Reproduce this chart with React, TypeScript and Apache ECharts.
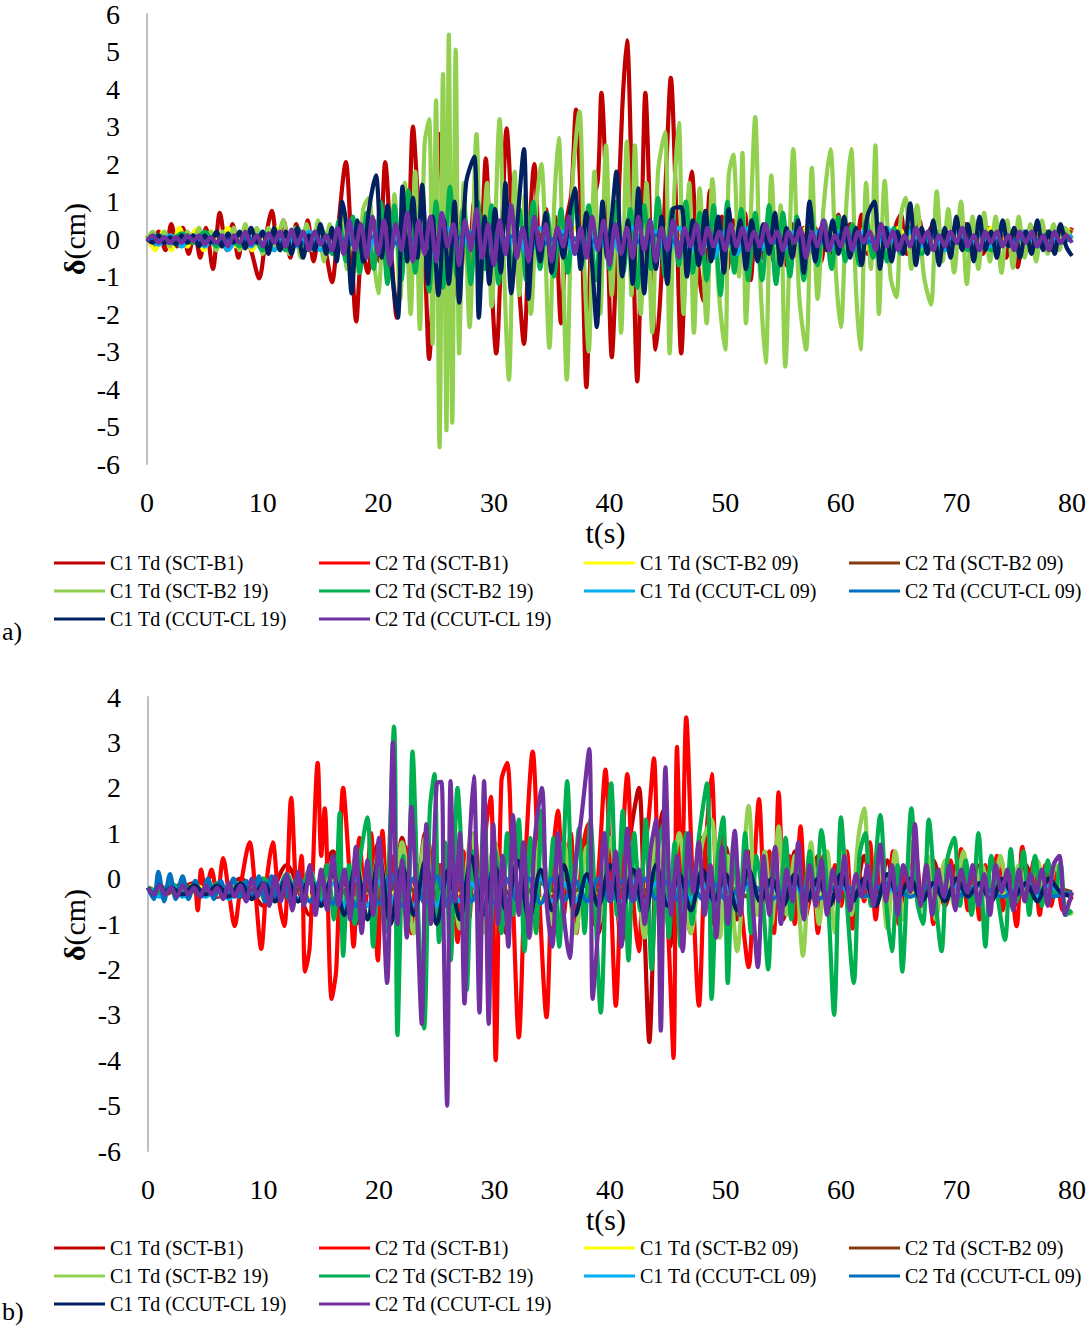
import React, { useEffect, useRef } from 'react';
import * as echarts from 'echarts';

// 系列名稱與顏色（Excel 調色盤）
const seriesNames = [
  'C1 Td (SCT-B1)', 'C2 Td (SCT-B1)', 'C1 Td (SCT-B2 09)', 'C2 Td (SCT-B2 09)',
  'C1 Td (SCT-B2 19)', 'C2 Td (SCT-B2 19)', 'C1 Td (CCUT-CL 09)', 'C2 Td (CCUT-CL 09)',
  'C1 Td (CCUT-CL 19)', 'C2 Td (CCUT-CL 19)',
];
const seriesColors = [
  '#C00000', '#FF0000', '#FFFF00', '#843C0C', '#92D050',
  '#00B050', '#00B0F0', '#0070C0', '#002060', '#7030A0',
];
// 圖例分欄（每欄的系列序號）
const legendColumns = [[0, 4, 8], [1, 5, 9], [2, 6], [3, 7]];

// ---------- a) 面板數據 [t(s), δ(cm)] ----------
const aC1B1 = [[0,0.1],[0.5,-0.2],[1,0.2],[1.6,-0.3],[2.1,0.4],[2.6,-0.2],[3.1,0.3],[3.6,-0.4],[4.1,0.2],[4.6,-0.5],[5.1,0.3],[5.7,-0.8],[6.3,0.7],[6.9,-0.3],[7.4,0.4],[7.9,-0.5],[8.4,0.2],[9,-0.3],[9.7,-1.05],[10.3,0.1],[10.8,0.75],[11.3,-0.2],[11.8,0.5],[12.4,-0.5],[12.9,0.4],[13.4,-0.2],[13.9,0.5],[14.4,-0.6],[15,0.3],[15.5,-0.4],[16,-1.15],[16.5,0.2],[17.2,2.05],[17.6,0.3],[18.1,-2.2],[18.6,-0.3],[19.1,-0.9],[19.6,0.5],[20.1,-0.6],[20.6,2.05],[21.1,-0.2],[21.6,-2.1],[22.1,0.2],[22.5,-0.5],[23,3.0],[23.5,0.8],[24,-0.5],[24.4,-3.2],[24.9,0.3],[25.3,2.8],[25.8,-0.8],[26.3,1.2],[26.8,-1.5],[27.3,0.8],[27.8,-1.0],[28.3,1.0],[28.8,-0.6],[29.3,2.15],[29.7,-0.5],[30.2,-3.05],[30.7,0.2],[31.1,2.95],[31.6,0.5],[32.1,-1.0],[32.6,-2.8],[33,-0.3],[33.5,2.0],[34,-0.4],[34.5,0.8],[35,-0.8],[35.3,0.6],[35.8,-2.25],[36.3,0.5],[36.7,1.2],[37.1,3.45],[37.6,0.2],[38,-3.95],[38.5,0.8],[39,1.6],[39.3,3.9],[39.8,0.5],[40.2,-3.15],[40.6,-0.5],[41.1,3.45],[41.5,5.3],[42,0.4],[42.4,-3.8],[42.8,0.6],[43.1,3.9],[43.6,-0.4],[44,-2.95],[44.4,-1.5],[44.9,1.8],[45.3,4.3],[45.8,0.5],[46.2,-3.05],[46.7,0.5],[47.1,1.8],[47.6,-0.5],[48.1,-1.65],[48.7,1.3],[49.2,-0.3],[49.7,0.6],[50.2,-0.8],[50.7,0.5],[51.2,-0.4],[51.7,0.7],[52.2,-1.1],[52.7,0.5],[53.2,-0.5],[53.7,0.4],[54.2,-0.6],[54.7,0.3],[55.3,-0.7],[55.8,0.4],[56.3,-0.5],[56.8,0.3],[57.3,-0.4],[57.8,0.3],[58.3,-0.6],[58.8,0.2],[59.3,-0.4],[59.8,0.65],[60.3,-0.3],[60.8,0.4],[61.3,-0.2],[61.8,0.65],[62.3,-0.4],[62.8,0.2],[63.3,-0.5],[63.8,0.3],[64.3,-0.3],[64.8,0.4],[65.2,0.65],[65.7,-0.4],[66.3,-0.3],[66.8,0.5],[67.3,-0.2],[67.8,0.3],[68.3,-0.4],[68.8,0.2],[69.3,-0.3],[69.8,0.3],[70.3,-0.2],[70.8,0.4],[71.3,-0.3],[71.8,0.2],[72.3,-0.4],[72.8,0.3],[73.3,-0.2],[73.8,0.3],[74.3,-0.5],[74.8,0.2],[75.3,-0.75],[75.8,0.2],[76.3,-0.3],[76.8,0.3],[77.3,-0.2],[77.8,0.2],[78.3,-0.3],[78.8,0.2],[79.3,-0.1],[80,0.3]];
const aC2B1 = [[0,0],[2,-0.1],[4,0.1],[6,-0.1],[8,0.05],[10,-0.1],[12,0.1],[14,-0.1],[16,0.1],[18,-0.15],[20,0.1],[22,-0.1],[24,0.15],[26,-0.1],[28,0.1],[30,-0.15],[32,0.1],[34,-0.1],[36,0.1],[38,-0.1],[40,0.1],[42,-0.15],[44,0.1],[46,-0.1],[48,0.1],[50,-0.1],[52,0.1],[54,-0.1],[56,0.05],[58,-0.1],[60,0.1],[62,-0.1],[64,0.05],[66,-0.1],[68,0.1],[70,-0.1],[72,0.05],[74,-0.1],[76,0.1],[78,-0.05],[80,0]];
const aC1B209 = [[0,0.1],[0.7,-0.3],[1.4,0.2],[2.1,-0.3],[2.8,0.3],[3.5,-0.2],[4.2,0.25],[4.9,-0.3],[5.6,0.2],[6.3,-0.2],[7,0.3],[7.7,-0.2],[8.4,0.2],[9.1,-0.3],[9.8,0.2],[10.5,-0.2],[11.2,0.3],[12,-0.2],[13,0.2],[14,-0.3],[15,0.2],[16,-0.3],[17,0.3],[18,-0.3],[19,0.3],[20,-0.4],[21,0.3],[22,-0.3],[23,0.4],[24,-0.3],[25,0.4],[26,-0.4],[27,0.3],[28,-0.3],[29,0.4],[30,-0.3],[31,0.3],[32,-0.4],[33,0.4],[34,-0.3],[35,0.3],[36,-0.3],[37,0.3],[38,-0.4],[39,0.3],[40,-0.3],[41,0.3],[42,-0.3],[43,0.4],[44,-0.3],[45,0.3],[46,-0.3],[47,0.4],[48,-0.3],[49,0.3],[50,-0.4],[51,0.3],[52,-0.3],[53,0.3],[54,-0.3],[55,0.2],[56,-0.3],[57,0.3],[58,-0.2],[59,0.3],[60,-0.3],[61,0.2],[62,-0.3],[63,0.2],[64,-0.2],[65,0.3],[66,-0.2],[67,0.2],[68,-0.3],[69,0.2],[70,-0.2],[71,0.2],[72,-0.2],[73,0.3],[74,-0.2],[75,0.2],[76,-0.2],[77,0.2],[78,-0.1],[79,0.3],[80,0.2]];
const aC2B209 = [[0,0],[2,0.1],[4,-0.1],[6,0.1],[8,-0.1],[10,0.1],[12,-0.1],[14,0.1],[16,-0.1],[18,0.15],[20,-0.15],[22,0.1],[24,-0.1],[26,0.15],[28,-0.1],[30,0.1],[32,-0.15],[34,0.1],[36,-0.1],[38,0.1],[40,-0.1],[42,0.1],[44,-0.1],[46,0.1],[48,-0.1],[50,0.1],[52,-0.1],[54,0.1],[56,-0.1],[58,0.1],[60,-0.1],[62,0.1],[64,-0.1],[66,0.1],[68,-0.1],[70,0.1],[72,-0.1],[74,0.1],[76,-0.1],[78,0.1],[80,0.2]];
const aC1B219 = [[0,0],[0.5,0.2],[1,-0.1],[1.5,0.2],[2,-0.2],[2.5,0.1],[3,-0.2],[3.5,0.2],[4,-0.1],[4.5,0.3],[5,-0.2],[5.5,0.2],[6,-0.3],[6.5,0.2],[7,-0.2],[7.5,0.3],[8,-0.3],[8.5,0.4],[9,-0.2],[9.5,0.3],[10,-0.4],[10.5,0.3],[11,-0.3],[11.8,0.5],[12.3,-0.4],[12.8,0.3],[13.3,-0.5],[13.8,0.4],[14.3,-0.3],[14.8,0.5],[15.3,-0.6],[15.8,0.4],[16.3,-0.5],[16.8,0.6],[17.3,-0.8],[17.8,0.5],[18.3,-0.9],[18.7,0.8],[19.2,1.1],[19.6,-0.5],[20,-1.45],[20.5,0.6],[21,-1.0],[21.4,1.2],[21.9,-1.6],[22.3,1.5],[22.8,-2.0],[23.2,1.8],[23.6,-2.4],[24,2.5],[24.4,3.2],[24.7,-2.8],[25,3.7],[25.3,-5.55],[25.6,4.4],[25.9,-5.1],[26.1,5.45],[26.4,-4.9],[26.7,5.05],[27,-3.05],[27.4,1.5],[27.9,-2.35],[28.5,2.8],[28.9,-1.2],[29.4,1.5],[29.8,-1.8],[30.5,3.2],[30.9,-1.0],[31.3,-3.75],[31.8,1.8],[32.2,-1.5],[32.7,1.2],[33.2,-2.0],[33.7,1.0],[34.1,2.0],[34.8,-2.9],[35.2,0.8],[35.6,2.7],[36,-1.0],[36.3,-3.75],[36.8,1.5],[37.4,3.4],[37.8,-0.5],[38.2,-3.0],[38.7,1.8],[39.2,-2.0],[39.7,2.5],[40.2,-1.5],[40.6,0.8],[41,-2.5],[41.5,2.6],[41.9,-1.5],[42.2,2.5],[42.7,-2.0],[43.2,1.5],[43.7,-2.5],[44.2,1.8],[44.8,2.85],[45.2,-3.05],[45.6,1.2],[46,3.1],[46.4,-2.0],[46.9,1.5],[47.3,-2.5],[47.8,1.35],[48.4,-2.25],[48.9,1.6],[49.4,-1.2],[50,-2.95],[50.3,1.65],[50.7,2.25],[51.2,-1.0],[51.5,2.3],[51.8,-2.25],[52.2,0.5],[52.6,3.25],[53,-0.8],[53.5,-3.3],[54,1.7],[54.5,-1.0],[54.8,0.9],[55.2,-3.4],[55.9,2.4],[56.4,-1.5],[57,-2.95],[57.5,1.9],[58,-1.6],[58.5,0.8],[59.1,2.4],[59.6,-1.0],[60,-2.35],[60.5,1.0],[60.9,2.4],[61.3,-1.2],[61.7,-2.95],[62.2,1.5],[62.6,-0.8],[63,2.5],[63.3,-2.0],[63.8,1.55],[64.3,-1.0],[64.8,-1.55],[65.2,0.6],[65.6,1.1],[66.1,-0.8],[66.6,0.9],[67.2,-1.0],[67.8,-1.75],[68.3,1.27],[68.8,-0.6],[69.3,0.8],[69.8,-0.9],[70.4,1.0],[70.9,-1.2],[71.4,0.6],[71.9,-0.8],[72.4,0.7],[72.9,-0.6],[73.4,0.6],[73.9,-0.9],[74.4,0.5],[74.9,-0.77],[75.4,0.6],[75.9,-0.5],[76.4,0.4],[76.9,-0.6],[77.4,0.5],[77.9,-0.4],[78.4,0.4],[78.9,-0.3],[79.4,0.3],[80,0]];
const aC2B219 = [[0,0],[1,0.1],[2,-0.1],[3,0.15],[4,-0.1],[5,0.2],[6,-0.2],[7,0.1],[8,-0.2],[9,0.2],[10,-0.3],[11,0.2],[12,-0.3],[13,0.3],[14,-0.3],[15,0.3],[16,-0.4],[16.6,0.5],[17.2,-0.6],[17.8,0.6],[18.4,-0.9],[19,0.7],[19.6,-0.8],[20.2,1.0],[20.8,-1.2],[21.4,0.9],[22,-1.1],[22.6,1.3],[23.2,-0.9],[23.8,1.1],[24.4,-1.4],[25,1.0],[25.6,-1.3],[26.2,1.4],[26.8,-1.0],[27.4,0.8],[28,-1.2],[28.6,1.0],[29.2,-0.8],[29.8,0.9],[30.4,-1.2],[31,1.1],[31.6,-0.9],[32.2,0.8],[32.8,-1.1],[33.4,1.0],[34,-0.8],[34.6,0.7],[35.2,-1.0],[35.8,0.8],[36.4,-0.9],[37,1.2],[37.6,-0.7],[38.2,0.9],[38.8,-1.1],[39.4,0.7],[40,-0.8],[40.6,1.0],[41.2,-0.9],[41.8,0.8],[42.4,-1.3],[43,0.9],[43.6,-0.8],[44.2,1.1],[44.8,-1.0],[45.4,0.8],[46,-0.7],[46.6,1.0],[47.2,-0.9],[47.8,0.7],[48.4,-1.1],[49,0.9],[49.6,-1.5],[50.2,1.0],[50.8,-0.9],[51.4,0.8],[52,-1.1],[52.6,0.7],[53.2,-1.1],[53.8,0.9],[54.4,-1.2],[55,0.7],[55.6,-1.0],[56.2,0.6],[56.8,-1.1],[57.4,0.8],[58,-0.7],[58.6,0.5],[59.2,-0.8],[59.8,0.6],[60.4,-0.6],[61,0.4],[61.6,-0.7],[62.2,0.5],[62.8,-0.5],[63.4,0.4],[64,-0.6],[64.6,0.3],[65.2,-0.4],[66,0.3],[67,-0.4],[68,0.3],[69,-0.3],[70,0.3],[71,-0.3],[72,0.2],[73,-0.3],[74,0.2],[75,-0.2],[76,0.2],[77,-0.2],[78,0.2],[79,-0.1],[80,0.1]];
const aC1CL09 = [[0,0],[1,-0.15],[2,0.1],[3,-0.2],[4,0.1],[5,-0.2],[6,0.15],[7,-0.3],[8,0.1],[9,-0.2],[10,0.2],[11,-0.3],[12,0.1],[13,-0.2],[14,0.2],[15,-0.3],[16,0.1],[17,-0.3],[18,0.3],[19,-0.4],[20,0.2],[21,-0.3],[22,0.3],[23,-0.4],[24,0.2],[25,-0.5],[26,0.3],[27,-0.3],[28,0.2],[29,-0.4],[30,0.3],[31,-0.3],[32,0.2],[33,-0.5],[34,0.3],[35,-0.3],[36,0.2],[37,-0.4],[38,0.3],[39,-0.3],[40,0.2],[41,-0.4],[42,0.3],[43,-0.3],[44,0.2],[45,-0.4],[46,0.3],[47,-0.3],[48,0.2],[49,-0.5],[50,0.2],[51,-0.4],[52,0.3],[53,-0.3],[54,0.2],[55,-0.3],[56,0.2],[57,-0.4],[58,0.2],[59,-0.3],[60,0.2],[61,-0.3],[62,0.2],[63,-0.2],[64,0.3],[65,-0.3],[66,0.2],[67,-0.2],[68,0.1],[69,-0.3],[70,0.2],[71,-0.2],[72,0.1],[73,-0.2],[74,0.2],[75,-0.1],[76,0.2],[77,-0.2],[78,0.1],[79,-0.1],[80,0.1]];
const aC2CL09 = [[0,0],[2,-0.1],[4,0.05],[6,-0.1],[8,0.1],[10,-0.1],[12,0.1],[14,-0.15],[16,0.1],[18,-0.15],[20,0.1],[22,-0.15],[24,0.1],[26,-0.1],[28,0.15],[30,-0.1],[32,0.1],[34,-0.15],[36,0.1],[38,-0.1],[40,0.1],[42,-0.1],[44,0.1],[46,-0.1],[48,0.1],[50,-0.1],[52,0.1],[54,-0.1],[56,0.05],[58,-0.1],[60,0.1],[62,-0.1],[64,0.1],[66,-0.1],[68,0.05],[70,-0.1],[72,0.1],[74,-0.1],[76,0.05],[78,-0.1],[80,0]];
const aC1CL19 = [[0,0],[0.5,-0.1],[1,0.1],[1.5,-0.1],[2,0.05],[2.5,-0.15],[3,0.1],[3.5,-0.1],[4,0.1],[4.5,-0.2],[5,0.1],[5.5,-0.1],[6,0.2],[6.5,-0.2],[7,0.15],[7.5,-0.1],[8,0.2],[8.5,-0.25],[9,0.3],[9.5,-0.1],[10,0.2],[10.5,-0.4],[11,0.3],[11.5,-0.3],[12,0.2],[12.5,-0.4],[13,0.3],[13.5,-0.5],[14,0.1],[14.5,-0.3],[15,0.4],[15.5,-0.4],[16,0.3],[16.4,-0.6],[16.9,1.0],[17.3,0.2],[17.7,-1.45],[18.2,0.5],[18.7,-0.6],[19.2,0.8],[19.8,1.7],[20.3,-0.5],[20.8,0.9],[21.2,-0.9],[21.7,-2.1],[22.1,1.4],[22.5,-0.6],[23,1.1],[23.4,-0.5],[23.8,1.45],[24.3,-1.2],[24.7,0.6],[25.2,-1.5],[25.7,0.5],[26.1,-1.2],[26.6,1.0],[27,-1.7],[27.6,1.5],[28.3,2.2],[28.7,-2.1],[29.2,0.6],[29.6,-1.2],[30.1,0.8],[30.6,-0.9],[31,1.5],[31.5,-1.45],[32,0.3],[32.6,2.4],[33,-1.6],[33.5,0.4],[34,-0.6],[34.5,0.7],[35,-0.9],[35.5,0.3],[36,-0.5],[36.5,0.6],[37,1.35],[37.5,-0.8],[38,0.7],[38.5,-0.7],[38.9,-2.35],[39.4,1.0],[39.8,-0.5],[40.2,0.6],[40.6,1.8],[41.1,-1.0],[41.6,0.5],[42,-1.2],[42.5,1.35],[43,-1.45],[43.5,0.5],[44,-0.8],[44.5,0.6],[45,-1.2],[45.5,0.8],[46.2,0.85],[46.7,-1.0],[47.2,0.5],[47.7,-0.7],[48.3,0.75],[48.8,-0.6],[49.4,0.6],[49.9,-0.9],[50.3,0.8],[50.8,-0.4],[51.3,0.5],[51.8,-0.8],[52.3,0.5],[52.8,-0.6],[53.3,0.4],[53.8,-0.4],[54.3,0.7],[54.8,-0.7],[55.3,0.3],[55.8,-0.5],[56.3,0.5],[56.8,-0.9],[57.3,1.0],[57.8,-0.6],[58.3,0.3],[58.8,-0.3],[59.3,0.5],[59.8,-0.4],[60.3,0.6],[60.8,-0.5],[61.3,0.3],[61.8,-0.7],[62.3,0.6],[62.9,1.0],[63.4,-0.8],[63.9,0.3],[64.4,-0.6],[64.9,0.2],[65.4,-0.4],[66,0.95],[66.5,-0.7],[67,0.3],[67.5,-0.4],[68,0.5],[68.5,-0.7],[69,0.3],[69.5,-0.5],[70,0.6],[70.5,-0.3],[71,0.4],[71.5,-0.6],[72,0.6],[72.5,-0.3],[73,0.2],[73.5,-0.5],[74,0.5],[74.5,-0.2],[75,0.3],[75.5,-0.5],[76,0.2],[76.5,-0.4],[77,0.5],[77.5,-0.3],[78,0.2],[78.5,-0.4],[79,0.4],[79.5,-0.2],[80,-0.45]];
const aC2CL19 = [[0,-0.05],[0.5,0.1],[1,-0.1],[1.5,0.05],[2,-0.1],[2.5,0.05],[3,-0.1],[3.5,0.1],[4,-0.05],[4.5,0.1],[5,-0.15],[5.5,0.05],[6,-0.1],[6.5,0.1],[7,-0.2],[7.5,0.1],[8,-0.1],[8.5,0.2],[9,-0.15],[9.5,0.1],[10,-0.2],[10.5,0.15],[11,-0.1],[11.5,0.2],[12,-0.2],[12.5,0.25],[13,-0.15],[13.5,0.2],[14,-0.3],[14.5,0.2],[15,-0.15],[15.5,0.1],[16,-0.3],[16.5,0.3],[17,-0.4],[17.5,0.5],[18,-0.3],[18.5,0.4],[19,-0.5],[19.5,0.6],[20,-0.4],[20.5,0.5],[21,-0.7],[21.5,0.4],[22,-0.3],[22.5,0.7],[23,-0.6],[23.5,0.5],[24,-0.4],[24.5,0.6],[25,-0.6],[25.5,0.7],[26,-0.2],[26.5,0.4],[27,-0.7],[27.5,0.5],[28,-0.3],[28.5,0.8],[29,-0.5],[29.5,0.4],[30,-0.7],[30.5,0.5],[31,-0.4],[31.5,0.9],[32,-0.5],[32.5,0.3],[33,-0.6],[33.5,0.6],[34,-0.3],[34.5,0.4],[35,-0.6],[35.5,0.3],[36,-0.2],[36.5,0.6],[37,-0.4],[37.5,0.3],[38,-0.5],[38.5,0.6],[39,-0.3],[39.5,0.5],[40,-0.7],[40.5,0.4],[41,-0.4],[41.5,0.3],[42,-0.5],[42.5,0.6],[43,-0.3],[43.5,0.5],[44,-0.6],[44.5,0.3],[45,-0.3],[45.5,0.5],[46,-0.5],[46.5,0.3],[47,-0.2],[47.5,0.4],[48,-0.4],[48.5,0.3],[49,-0.2],[49.5,0.2],[50,-0.3],[50.5,0.4],[51,-0.2],[51.5,0.3],[52,-0.3],[52.5,0.2],[53,-0.2],[53.5,0.4],[54,-0.1],[54.5,0.2],[55,-0.3],[55.5,0.2],[56,-0.1],[56.5,0.3],[57,-0.5],[57.5,0.2],[58,-0.2],[58.5,0.5],[59,-0.3],[59.5,0.1],[60,-0.2],[60.5,0.3],[61,-0.3],[61.5,0.2],[62,-0.1],[62.5,0.2],[63,-0.3],[63.5,0.4],[64,-0.2],[64.5,0.2],[65,-0.3],[65.5,0.1],[66,-0.2],[66.5,0.3],[67,-0.1],[67.5,0.2],[68,-0.3],[68.5,0.1],[69,-0.2],[69.5,0.2],[70,-0.1],[70.5,0.3],[71,-0.2],[71.5,0.1],[72,-0.3],[72.5,0.2],[73,-0.1],[73.5,0.2],[74,-0.2],[74.5,0.1],[75,-0.3],[75.5,0.2],[76,-0.1],[76.5,0.2],[77,-0.2],[77.5,0.1],[78,-0.3],[78.5,0.2],[79,-0.1],[79.5,0.1],[80,-0.1]];

// ---------- b) 面板數據 [t(s), δ(cm)] ----------
const bC1B1 = [[0,-0.2],[2,-0.3],[4,-0.1],[6,-0.4],[8,0],[10,-0.6],[12,0.3],[14,-0.8],[16,0.6],[18,-1.0],[20,0.8],[21,-0.9],[22,0.9],[23,-1.2],[24,1.0],[25,-1.0],[26,0.7],[27,-1.2],[28,0.9],[29,-1.0],[30,0.8],[31,-1.2],[32,1.0],[33,-1.1],[34,0.9],[35,-1.3],[36,0.8],[37,-1.0],[38,1.0],[39,-1.2],[40,0.9],[41,-1.4],[41.8,1.0],[42.5,2.0],[43,-1.2],[43.4,-3.6],[44,0.5],[44.6,1.5],[45.2,-1.5],[46,0.8],[47,-1.2],[48,0.9],[49,-1.0],[50,0.7],[51,-0.9],[52,0.6],[53,-0.8],[54,0.5],[55,-0.9],[56,0.6],[57,-0.7],[58,0.5],[59,-0.8],[60,0.4],[61,-0.7],[62,0.5],[63,-0.6],[64,0.4],[65,-0.7],[66,0.3],[67,-0.5],[68,0.4],[69,-0.6],[70,0.3],[71,-0.5],[72,0.3],[73,-0.5],[74,0.2],[75,-0.6],[76,0.3],[77,-0.4],[78,0.2],[79,-0.4],[80,-0.3]];
const bC2B1 = [[0,-0.2],[0.5,-0.3],[1,-0.1],[1.5,-0.3],[2,-0.15],[2.5,-0.35],[3,-0.1],[3.5,-0.3],[4,-0.1],[4.3,-0.7],[4.6,0.2],[5,-0.3],[5.5,0.2],[6,-0.4],[6.5,0.45],[7,-0.3],[7.5,-1.05],[8,-0.2],[8.8,0.8],[9.3,-0.3],[9.8,-1.55],[10.3,0],[10.8,0.8],[11.3,-0.4],[11.8,-1.05],[12.4,1.78],[12.9,-0.3],[13.3,0.5],[13.6,-2.05],[14,-1.5],[14.7,2.55],[15,0.5],[15.3,1.55],[15.9,-2.65],[16.3,-2.0],[16.9,2.0],[17.4,0.3],[17.8,-1.5],[18.3,0.9],[18.8,-0.6],[19.3,1.0],[19.9,-1.8],[20.3,1.05],[20.8,-0.8],[21.3,0.5],[21.8,-0.6],[22.3,0.7],[22.8,-1.2],[23.3,0.3],[23.8,-0.5],[24.3,0.8],[24.8,-0.9],[25.3,0.3],[25.8,-0.6],[26.3,0.5],[26.8,-1.4],[27.3,0.6],[27.8,-0.9],[28.3,1.0],[28.8,-0.6],[29.3,1.2],[29.7,1.8],[30.1,-4.0],[30.6,2.15],[31.1,2.55],[31.6,-0.5],[32.1,-3.5],[32.7,0.5],[33.3,2.8],[33.9,-0.5],[34.5,-3.05],[35,0.3],[35.5,1.5],[36,-0.8],[36.6,1.0],[37.1,-1.2],[37.6,0.6],[38.1,1.2],[38.6,-1.0],[39.1,0.5],[39.6,2.4],[40.1,-0.5],[40.5,-2.8],[41,0.3],[41.5,2.3],[42,-0.4],[42.5,-1.6],[42.9,0.5],[43.3,1.2],[43.8,2.65],[44.3,-1.0],[44.7,0.4],[45.1,-1.5],[45.5,-3.95],[45.8,2.9],[46.2,-0.3],[46.6,3.55],[47.1,0.3],[47.7,-2.8],[48.2,0.3],[48.8,2.3],[49.3,-0.6],[49.8,1.0],[50.3,-1.2],[50.8,0.6],[51.3,-0.5],[52,-1.95],[52.5,0.3],[52.9,1.75],[53.4,-0.4],[53.8,0.6],[54.2,-1.2],[54.6,1.9],[55.1,-0.5],[55.5,0.5],[56,-1.0],[56.5,1.15],[57,-0.8],[57.5,0.3],[58,-1.2],[58.5,0.5],[59,-0.8],[59.5,0.3],[60,-0.6],[60.5,0.6],[61,-1.1],[61.5,0.2],[62,-0.5],[62.5,0.8],[63,-0.9],[63.5,0.3],[64,-0.5],[64.5,0.6],[65,-1.0],[65.5,0.2],[66,-0.4],[66.5,0.5],[67,-0.6],[67.5,0.3],[68,-1.0],[68.5,0.2],[69,-0.6],[69.5,0.4],[70,-0.5],[70.4,0.65],[71,-0.7],[71.5,0.2],[72,-0.9],[72.5,0.3],[73,-0.5],[73.5,0.5],[74,-0.7],[74.5,0.2],[75.2,-1.05],[75.7,0.7],[76.2,-0.3],[76.7,0.4],[77.2,-0.8],[77.7,0.3],[78.2,-0.6],[78.7,0.2],[79.2,-0.7],[80,-0.4]];
const bC1B209 = [[0,-0.2],[2,-0.3],[4,-0.15],[6,-0.35],[8,-0.1],[10,-0.4],[12,-0.1],[14,-0.4],[16,-0.05],[18,-0.45],[20,-0.1],[22,-0.4],[24,-0.05],[26,-0.45],[28,-0.1],[30,-0.4],[32,-0.1],[34,-0.45],[36,-0.1],[38,-0.4],[40,-0.1],[42,-0.4],[44,-0.1],[46,-0.4],[48,-0.15],[50,-0.4],[52,-0.1],[54,-0.4],[56,-0.15],[58,-0.35],[60,-0.1],[62,-0.4],[64,-0.15],[66,-0.35],[68,-0.15],[70,-0.35],[72,-0.15],[74,-0.35],[76,-0.2],[78,-0.35],[80,-0.3]];
const bC2B209 = [[0,-0.2],[1.5,-0.35],[3,-0.1],[4.5,-0.35],[6,-0.15],[8,-0.4],[10,-0.1],[12,-0.4],[14,-0.1],[16,-0.45],[18,-0.1],[20,-0.4],[22,-0.1],[24,-0.45],[26,-0.1],[28,-0.4],[30,-0.1],[32,-0.45],[34,-0.1],[36,-0.4],[38,-0.15],[40,-0.4],[42,-0.1],[44,-0.4],[46,-0.15],[48,-0.4],[50,-0.15],[52,-0.4],[54,-0.15],[56,-0.35],[58,-0.15],[60,-0.4],[62,-0.15],[64,-0.35],[66,-0.15],[68,-0.35],[70,-0.2],[72,-0.35],[74,-0.2],[76,-0.35],[78,-0.2],[80,-0.3]];
const bC1B219 = [[0,-0.2],[1,-0.3],[2,-0.15],[3,-0.3],[4,-0.2],[5,-0.35],[6,-0.15],[7,-0.4],[8,-0.1],[9,-0.4],[10,0],[11,-0.5],[12,0.1],[13,-0.5],[14,0.2],[15,-0.6],[16,0.3],[17,-0.7],[18,0.5],[19,-0.9],[20,0.6],[21,-1.0],[22,0.8],[23,-1.2],[24,0.9],[25,-1.0],[26,0.7],[27,-1.1],[28,1.0],[29,-1.2],[30,0.8],[31,-1.0],[32,0.6],[33,-1.3],[34,0.9],[35,-1.0],[36,0.8],[37,-1.2],[38,0.7],[39,-1.0],[40,0.9],[41,-1.1],[42,0.8],[43,-1.3],[44,0.9],[45,-1.0],[46,1.0],[47,-1.2],[48,0.8],[48.8,1.3],[49.5,-1.3],[50.2,0.5],[51,-1.6],[52,1.6],[52.7,-0.8],[53.4,0.6],[54,-1.0],[54.6,1.15],[55.3,-0.8],[56,0.5],[56.7,-1.7],[57.4,0.8],[58.1,-1.0],[58.8,0.6],[59.5,-1.2],[60.2,0.7],[60.9,-0.8],[61.5,0.9],[62,1.55],[62.6,-0.6],[63.3,0.5],[64,-1.1],[64.7,0.6],[65.4,-0.9],[66.1,0.8],[66.8,-0.7],[67.5,0.5],[68.2,-0.9],[69,0.4],[69.8,-0.6],[70.6,0.6],[71.4,-0.7],[72.2,0.3],[73,-0.5],[73.8,0.5],[74.6,-0.6],[75.4,0.3],[76.2,-0.4],[77,0.4],[77.8,-0.5],[78.6,0.3],[79.3,-0.5],[80,-0.8]];
const bC2B219 = [[0,-0.2],[1,-0.3],[2,-0.1],[3,-0.3],[4,-0.15],[5,-0.35],[6,-0.1],[7,-0.3],[8,-0.1],[9,-0.4],[10,0],[11,-0.4],[12,0.1],[13,-0.5],[14,0.2],[14.8,-0.6],[15.5,0.3],[16.1,-0.9],[16.6,1.45],[16.9,-1.7],[17.4,0.3],[17.9,-1.0],[18.4,0.5],[19,1.35],[19.5,-1.5],[20,0.4],[20.5,-1.2],[21.3,3.35],[21.6,-3.45],[22.1,0.5],[22.5,-1.0],[22.9,2.8],[23.4,-0.8],[23.9,-3.3],[24.4,1.5],[24.8,2.3],[25.2,-1.4],[25.7,0.8],[26.2,-1.8],[26.8,2.0],[27.2,0.3],[27.6,-2.45],[28.1,0.6],[28.6,-0.8],[29.1,1.5],[29.6,-1.3],[30.1,0.6],[30.6,-1.2],[31.1,1.0],[31.6,-0.8],[32.1,1.3],[32.6,-1.6],[33.1,0.9],[33.6,-1.2],[34.1,1.5],[34.6,-0.6],[35.1,0.9],[35.6,-1.5],[36.3,2.15],[36.8,-0.6],[37.3,1.1],[37.8,-1.2],[38.3,1.3],[38.7,-0.5],[39.2,-2.95],[39.7,0.5],[40.1,2.1],[40.6,-0.8],[41.1,1.5],[41.6,-1.8],[42.1,1.0],[42.6,-0.7],[43.1,1.3],[43.6,-2.0],[44.1,0.5],[44.6,1.2],[45.1,-1.3],[45.6,0.8],[46.1,-1.5],[46.6,1.0],[47.1,-1.0],[47.6,0.7],[48.4,2.1],[48.8,-2.65],[49.3,0.4],[49.8,1.35],[50.2,-2.3],[50.7,0.8],[51.2,-0.8],[51.7,1.0],[52.2,-1.2],[52.7,0.5],[53.2,-0.4],[53.7,-2.0],[54.2,0.6],[54.7,-0.7],[55.2,0.9],[55.7,-0.9],[56.2,0.3],[56.7,-0.8],[57.3,0.6],[57.8,-0.5],[58.3,1.07],[58.9,-0.6],[59.4,-3.0],[60,1.35],[60.5,-0.5],[61.1,-2.3],[61.6,0.5],[62.1,1.0],[62.6,-0.6],[63.4,1.4],[63.9,-0.5],[64.4,-1.6],[64.9,0.3],[65.3,-2.05],[66.1,1.55],[66.6,-0.5],[67.1,-1.0],[67.6,1.3],[68.2,-0.5],[68.7,-1.6],[69.2,0.4],[69.8,0.9],[70.3,-0.6],[70.8,0.4],[71.3,-0.8],[71.9,1.0],[72.5,-1.5],[73,0.5],[73.5,-0.3],[74.2,-1.35],[74.7,0.65],[75.2,-0.5],[75.8,0.6],[76.3,-0.8],[76.8,0.5],[77.4,-0.6],[77.9,0.4],[78.5,-0.4],[79,0.35],[79.5,-0.8],[80,-0.7]];
const bC1CL09 = [[0,-0.2],[1,-0.4],[2,-0.15],[3,-0.4],[4,-0.2],[5,-0.4],[6,-0.2],[7,-0.45],[8,-0.15],[9,-0.45],[10,-0.1],[11,-0.5],[12,-0.1],[13,-0.45],[14,-0.05],[15,-0.5],[16,-0.1],[17,-0.6],[18,0],[19,-0.6],[20,-0.05],[21,-0.55],[22,0],[23,-0.6],[24,-0.1],[25,-0.6],[26,0],[27,-0.5],[28,-0.1],[29,-0.6],[30,0],[31,-0.5],[32,-0.1],[33,-0.6],[34,0],[35,-0.5],[36,-0.1],[37,-0.5],[38,0],[39,-0.5],[40,-0.1],[41,-0.5],[42,-0.05],[43,-0.5],[44,-0.1],[45,-0.5],[46,-0.1],[47,-0.45],[48,-0.1],[49,-0.5],[50,-0.15],[51,-0.5],[52,-0.1],[53,-0.45],[54,-0.1],[55,-0.5],[56,-0.15],[57,-0.45],[58,-0.1],[59,-0.5],[60,-0.15],[61,-0.4],[62,-0.1],[63,-0.45],[64,-0.15],[65,-0.4],[66,-0.1],[67,-0.45],[68,-0.15],[69,-0.4],[70,-0.15],[71,-0.4],[72,-0.1],[73,-0.4],[74,-0.15],[75,-0.4],[76,-0.1],[77,-0.4],[78,-0.15],[79,-0.3],[80,-0.35]];
const bC2CL09 = [[0,-0.2],[0.5,-0.45],[0.9,0.15],[1.4,-0.5],[1.9,0.1],[2.4,-0.45],[3,0.05],[3.5,-0.45],[4.1,-0.05],[4.6,-0.4],[5.2,0],[5.7,-0.45],[6.3,-0.05],[6.8,-0.4],[7.4,0],[7.9,-0.4],[8.5,-0.05],[9,-0.45],[9.6,0.05],[10.1,-0.5],[10.7,0.05],[11.2,-0.45],[11.8,0],[12.3,-0.5],[13,0.05],[14,-0.5],[15,0],[16,-0.55],[17,0.05],[18,-0.6],[19,0],[20,-0.55],[21,0.1],[22,-0.6],[23,0],[24,-0.55],[25,0.05],[26,-0.6],[27,0],[28,-0.5],[29,0.05],[30,-0.55],[31,0],[32,-0.5],[33,0],[34,-0.55],[35,0],[36,-0.5],[37,-0.05],[38,-0.5],[39,0],[40,-0.5],[41,-0.05],[42,-0.5],[43,0],[44,-0.45],[45,-0.05],[46,-0.5],[47,-0.05],[48,-0.45],[49,-0.1],[50,-0.45],[52,-0.1],[54,-0.45],[56,-0.1],[58,-0.45],[60,-0.1],[62,-0.4],[64,-0.1],[66,-0.4],[68,-0.1],[70,-0.4],[72,-0.15],[74,-0.4],[76,-0.15],[78,-0.4],[80,-0.3]];
const bC1CL19 = [[0,-0.2],[0.5,-0.35],[1,-0.15],[1.5,-0.3],[2,-0.2],[3,-0.35],[4,-0.15],[5,-0.35],[6,-0.15],[7,-0.4],[8,-0.1],[9,-0.45],[10,-0.1],[11,-0.5],[12,0],[13,-0.5],[14,0],[15,-0.6],[16,0.1],[17,-0.8],[18,0.3],[19,-0.9],[20,0.5],[21,-1.0],[22,0.3],[23,-0.8],[24,0.4],[25,-1.0],[26,0.2],[27,-0.9],[28,0.5],[29,-0.8],[30,0.3],[31,-0.7],[32,0.4],[33,-0.9],[34,0.2],[35,-0.7],[36,0.3],[37,-0.8],[38,0.1],[39,-0.6],[40,0.3],[41,-0.7],[42,0.2],[43,-0.8],[44,0.3],[45,-0.6],[46,0.1],[47,-0.7],[48,0.2],[49,-0.5],[50,0.1],[51,-0.7],[52,0.2],[53,-0.5],[54,0],[55,-0.6],[56,0.1],[57,-0.5],[58,0],[59,-0.6],[60,0.1],[61,-0.5],[62,0],[63,-0.6],[64,0.1],[65,-0.4],[66,0],[67,-0.5],[68,-0.1],[69,-0.5],[70,0],[71,-0.4],[72,-0.1],[73,-0.5],[74,0],[75,-0.4],[76,-0.1],[77,-0.5],[78,0],[79,-0.3],[80,-0.4]];
const bC2CL19 = [[0,-0.2],[0.5,-0.35],[1,-0.15],[1.5,-0.35],[2,-0.2],[2.5,-0.4],[3,-0.15],[3.5,-0.35],[4,-0.2],[4.5,-0.4],[5,-0.15],[5.5,-0.35],[6,-0.2],[6.5,-0.45],[7,-0.1],[7.5,-0.4],[8,-0.15],[8.5,-0.5],[9,0],[9.5,-0.4],[10,-0.1],[10.5,-0.6],[11,0.05],[11.5,-0.5],[12,0.1],[12.5,-0.7],[13,0.15],[13.5,-0.6],[14,0.3],[14.5,-0.8],[15,0.2],[15.5,-0.7],[16,0.5],[16.5,-0.6],[17,0.2],[17.5,-0.9],[18,0.7],[18.5,-1.2],[19,0.4],[19.5,-0.8],[20,0.9],[20.7,-2.3],[21.2,3.0],[21.6,-1.0],[22,0.4],[22.4,-1.3],[22.8,1.58],[23.3,-0.8],[23.7,-3.2],[24.1,1.2],[24.5,-1.0],[25,2.1],[25.4,2.13],[25.6,-1.2],[25.9,-5.0],[26.2,2.15],[26.6,-0.5],[27,1.0],[27.4,-2.75],[27.8,0.5],[28.2,2.25],[28.7,-2.95],[29.1,2.15],[29.5,-3.2],[29.9,1.2],[30.3,-1.0],[30.7,0.5],[31.2,-1.5],[31.6,1.4],[32.1,-0.8],[32.5,0.8],[33,-1.3],[33.5,0.9],[34.1,2.0],[34.5,-0.5],[35,-1.5],[35.5,1.0],[36,-0.8],[36.5,-1.75],[37,0.3],[37.5,1.3],[38.2,2.85],[38.5,-2.65],[39,-1.0],[39.5,1.0],[40,-0.5],[40.5,0.6],[41,-1.5],[41.5,1.1],[42,-0.5],[42.5,0.2],[43,-1.0],[43.5,0.6],[44,1.3],[44.4,-3.35],[44.8,2.45],[45.3,-0.8],[45.8,0.5],[46.3,-1.6],[46.8,1.0],[47.2,-0.3],[47.7,0.8],[48.2,-0.8],[48.7,0.3],[49.2,-1.3],[49.7,0.7],[50.2,-1.0],[50.8,1.05],[51.3,-0.8],[51.8,0.6],[52.3,-0.4],[52.8,-1.95],[53.3,0.5],[53.8,-0.8],[54.3,0.7],[54.8,-1.0],[55.3,0.2],[55.8,-0.5],[56.3,0.8],[56.8,-0.9],[57.3,0.3],[57.8,-0.6],[58.3,0.4],[58.8,-0.8],[59.3,0.2],[59.8,-0.5],[60.3,0.5],[60.8,-0.7],[61.3,0.1],[61.8,-0.4],[62.3,0.3],[62.8,-0.6],[63.4,0.75],[63.9,-0.5],[64.4,0.3],[64.9,-0.8],[65.4,0.3],[66,-0.3],[66.4,1.2],[66.9,-0.6],[67.4,0.3],[67.9,-0.8],[68.4,0.2],[68.9,-0.4],[69.4,0.3],[69.9,-0.7],[70.4,0.2],[70.9,-0.3],[71.4,0.3],[71.9,-0.6],[72.4,0.1],[72.9,-0.8],[73.4,0.3],[73.9,-0.3],[74.4,0.2],[74.9,-0.7],[75.4,0.2],[75.9,-0.5],[76.4,0.1],[76.9,-0.3],[77.4,0.2],[77.9,-0.6],[78.4,0.3],[78.9,0.5],[79.4,-0.8],[80,-0.3]];

const panelAData = [aC1B1, aC2B1, aC1B209, aC2B209, aC1B219, aC2B219, aC1CL09, aC2CL09, aC1CL19, aC2CL19];
const panelBData = [bC1B1, bC2B1, bC1B209, bC2B209, bC1B219, bC2B219, bC1CL09, bC2CL09, bC1CL19, bC2CL19];

const FONT = 'Liberation Serif, Times New Roman, serif';

/**
 * 位移時程圖（兩個面板）
 */
const App: React.FC = () => {
  const chartRef = useRef<HTMLDivElement>(null);

  useEffect(() => {
    if (!chartRef.current) return;
    const chart = echarts.init(chartRef.current, undefined, { renderer: 'svg' });

    // 面板佈局
    const panels = [
      { data: panelAData, left: 147, top: 12, width: 927, height: 452, yMin: -6, yMax: 6, legendTop: 553, tag: 'a)', tagY: 631 },
      { data: panelBData, left: 148, top: 697, width: 926, height: 454, yMin: -6, yMax: 4, legendTop: 1238, tag: 'b)', tagY: 1311 },
    ];

    const axisLabel = { fontFamily: FONT, fontSize: 28, color: '#000' };

    const grid = panels.map(p => ({ left: p.left, top: p.top, width: p.width, height: p.height }));
    const xAxis = panels.map((_, i) => ({
      type: 'value', gridIndex: i, min: 0, max: 80, interval: 10,
      axisLine: { show: false }, axisTick: { show: false }, splitLine: { show: false },
      axisLabel: { ...axisLabel, margin: 24 },
    }));
    const yAxis = panels.map((p, i) => ({
      type: 'value', gridIndex: i, min: p.yMin, max: p.yMax, interval: 1,
      axisLine: { show: true, lineStyle: { color: '#bfbfbf', width: 2 } },
      axisTick: { show: false }, splitLine: { show: false },
      axisLabel: { ...axisLabel, margin: 27 },
    }));

    const series: any[] = [];
    panels.forEach((p, i) => {
      p.data.forEach((d, k) => {
        series.push({
          name: seriesNames[k], type: 'line', xAxisIndex: i, yAxisIndex: i,
          data: d, showSymbol: false, smooth: 0.3,
          lineStyle: { color: seriesColors[k], width: 4.2 },
          itemStyle: { color: seriesColors[k] },
        });
      });
    });

    const legend: any[] = [];
    panels.forEach(p => {
      legendColumns.forEach((col, c) => {
        legend.push({
          orient: 'vertical', left: 54 + c * 265, top: p.legendTop, padding: 0,
          itemGap: 8, itemWidth: 51, itemHeight: 3, icon: 'rect', selectedMode: false,
          data: col.map(k => seriesNames[k]),
          textStyle: { fontFamily: FONT, fontSize: 20, lineHeight: 20, color: '#000' },
        });
      });
    });

    const graphic: any[] = [];
    panels.forEach(p => {
      graphic.push({
        type: 'text', x: p.left + p.width / 2 - 5, y: p.top + p.height + 68,
        style: { text: 't(s)', fontFamily: FONT, fontSize: 30, fill: '#000', align: 'center', verticalAlign: 'middle' },
      });
      graphic.push({
        type: 'text', x: 74, y: p.top + p.height / 2 + 1, rotation: Math.PI / 2,
        style: {
          text: '{d|δ}(cm)', fontFamily: FONT, fontSize: 30, fill: '#000', align: 'center', verticalAlign: 'middle',
          rich: { d: { fontFamily: FONT, fontSize: 30, fontWeight: 'bold', fill: '#000' } },
        },
      });
      graphic.push({
        type: 'text', x: 2, y: p.tagY,
        style: { text: p.tag, fontFamily: FONT, fontSize: 26, fill: '#000', align: 'left', verticalAlign: 'middle' },
      });
    });

    chart.setOption({ animation: false, grid, xAxis, yAxis, series, legend, graphic });

    return () => {
      chart.dispose();
    };
  }, []);

  return (
    <div
      ref={chartRef}
      style={{ position: 'absolute', left: 0, top: 0, width: 1089, height: 1329, background: '#fff' }}
    />
  );
};

export default App;
